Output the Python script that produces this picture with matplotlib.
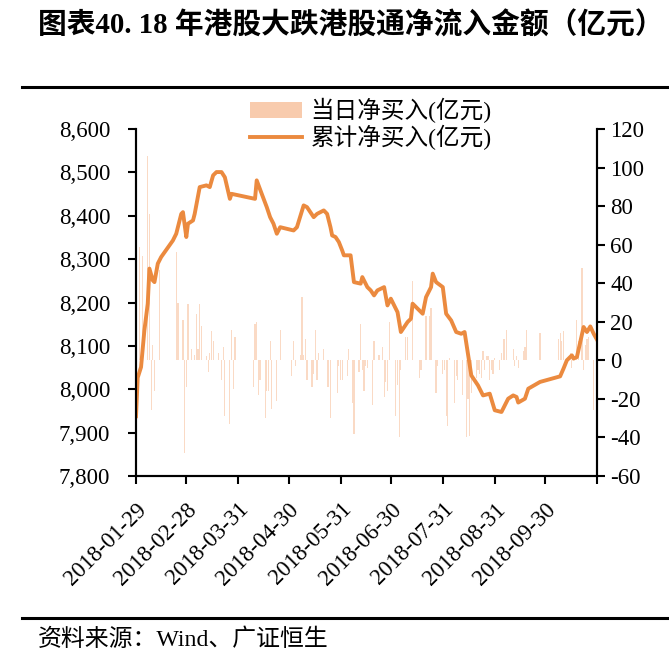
import pandas as pd
import matplotlib
matplotlib.use('Agg')
import matplotlib.pyplot as plt
from matplotlib.lines import Line2D
from matplotlib.ticker import FuncFormatter

plt.rcParams['font.family'] = ['Liberation Serif', 'Noto Sans CJK SC']
plt.rcParams['axes.unicode_minus'] = False

start = pd.Timestamp('2018-01-29')
end = pd.Timestamp('2018-10-31')

# cumulative net buy (亿元), x as days after 2018-01-29
cum_days = [0, 1, 3, 5, 7, 8, 10, 11, 13, 15, 22, 24, 27, 28, 30, 31, 34, 35, 38, 42,
            44, 46, 48, 51, 53, 56, 57, 71, 72, 75, 78, 80, 82, 84, 86, 94, 96, 100, 102, 106,
            108, 112, 114, 116, 117, 119, 121, 123, 124, 128, 130, 134, 135, 138, 140, 142, 144, 148, 150, 152,
            156, 158, 162, 164, 165, 168, 171, 173, 176, 177, 179, 183, 185, 188, 191, 194, 196, 200, 202, 204,
            207, 211, 214, 218, 222, 225, 227, 228, 232, 234, 241, 253, 255, 257, 260, 261, 263, 265, 267, 269,
            271, 273, 275]
cum_vals = [-29, -9, -3.5, 15.6, 29.4, 47.6, 41.5, 40.6, 50.2, 53.6, 62.2, 65.7, 76, 76.9, 64, 70.9, 72.6, 76, 89.9, 90.8,
            89.9, 96, 97.7, 97.7, 95, 83.8, 86.4, 83.8, 93.4, 86.4, 79.5, 74.3, 70.9, 65.7, 69.1, 67.4, 69.1, 80.4, 79.5, 74.3,
            76, 77.8, 76, 69.1, 64.8, 64, 61.4, 57, 54.5, 54.5, 40.6, 39.8, 43.2, 38, 36.3, 33.7, 36.3, 38, 28.5, 32,
            25, 14.7, 19.9, 21.6, 29.4, 26.8, 24.2, 32.8, 38, 45, 40.6, 38, 24.2, 20.7, 14.7, 13.8, 14.7, -7.8, -10.4, -13,
            -18.2, -17.3, -25.9, -26.8, -19.9, -18.2, -19, -21.9, -19.9, -14.7, -11.2, -8.3, -4.3, 0, 2.6, 0.9, 1.7, 9.5, 17.3, 14.7,
            17.6, 13.8, 10.7]

# daily net buy (亿元)
daily_days = [2, 4, 7, 8, 9, 10, 11, 14, 24, 25, 28, 29, 30, 31, 33, 35, 36, 37, 38, 39,
              42, 43, 44, 45, 46, 49, 51, 52, 53, 56, 57, 58, 59, 70, 71, 72, 73, 74, 77, 78,
              79, 80, 81, 84, 86, 93, 94, 95, 98, 99, 100, 101, 102, 105, 106, 107, 108, 109, 112, 114,
              115, 116, 120, 121, 122, 123, 126, 127, 129, 130, 133, 134, 135, 136, 137, 138, 141, 142, 145, 147,
              148, 149, 150, 151, 155, 156, 157, 158, 161, 162, 165, 169, 170, 173, 175, 176, 179, 180, 183, 184,
              185, 186, 187, 190, 191, 192, 195, 197, 198, 199, 200, 203, 204, 205, 206, 207, 208, 209, 210, 211,
              212, 213, 214, 217, 218, 219, 220, 221, 225, 226, 227, 228, 231, 232, 233, 241, 252, 253, 254, 255,
              259, 260, 263, 264, 266, 267, 268, 269, 270, 273]
daily_vals = [59, 54, 106, 76, -26, 8, -16, 47, 56, 30, 21, -48, -14, 29, 6, 3, 24, 6, 29, 18,
              2, -6, 4, 15, 10, 4, -10, 7, -29, -33, 16, -15, 12, -14, 19, 20, -18, -10, -30, -16,
              -16, 10, -25, -21, 16, -8, 10, -3, 3, 33, 3, 11, -10, -14, -7, 16, -10, 4, 6, -14,
              -14, -30, -17, -3, -10, -10, -8, 6, -22, -38, -6, 19, -5, -16, -3, -4, -23, 10, 3, 7,
              -19, -11, -16, 20, -29, -13, -40, -5, 12, 12, 41, -9, -5, 23, 23, 27, -17, -3, -7, -5,
              -29, -34, 1, -22, -8, -10, -18, -40, -20, -39, -17, -9, -5, -7, -9, 5, -5, 2, 2, -10,
              -5, -7, 1, -5, 4, 11, 11, 16, 6, -3, 2, -4, 5, 7, 16, 14, 11, 14, 10, 15,
              4, -4, 21, 10, 48, -5, 8, 11, 12, -26]

tick_dates = ['2018-01-29', '2018-02-28', '2018-03-31', '2018-04-30', '2018-05-31',
              '2018-06-30', '2018-07-31', '2018-08-31', '2018-09-30', '2018-10-31']
tick_labels = ['2018-01-29', '2018-02-28', '2018-03-31', '2018-04-30', '2018-05-31',
               '2018-06-30', '2018-07-31', '2018-08-31', '2018-09-30', '']
left_ticks = [7800, 7900, 8000, 8100, 8200, 8300, 8400, 8500, 8600]
right_ticks = [-60, -40, -20, 0, 20, 40, 60, 80, 100, 120]

cum_dates = start + pd.to_timedelta(cum_days, unit='D')
daily_dates = start + pd.to_timedelta(daily_days, unit='D')

fig = plt.figure(figsize=(6.69, 6.62), dpi=100)
ax = fig.add_axes([0.2033, 0.281, 0.6891, 0.524])
ax2 = ax.twinx()

bars = ax2.bar(daily_dates, daily_vals, width=0.7, color='#F8CBAD', alpha=0.7, linewidth=0,
               label='当日净买入(亿元)')
line, = ax2.plot(cum_dates, cum_vals, color='#EB8A3F', lw=2.8, label='累计净买入(亿元)')

ax.set_xlim(start, end)
ax.set_ylim(7800, 8600)
ax.set_yticks(left_ticks)
ax.yaxis.set_major_formatter(FuncFormatter(lambda v, p: f'{int(v):,}'))
ax2.set_ylim(-60, 120)
ax2.set_yticks(right_ticks)

ax.set_xticks(pd.to_datetime(tick_dates))
ax.set_xticklabels(tick_labels, rotation=45, ha='right', va='top', rotation_mode='anchor')

for a in (ax, ax2):
    a.spines['top'].set_visible(False)
    for s in ('left', 'right', 'bottom'):
        a.spines[s].set_linewidth(1.5)
    a.tick_params(direction='out', length=6, width=1.5, labelsize=16.5, colors='black')
ax.tick_params(axis='y', pad=12.5)
ax.tick_params(axis='x', pad=10.5)

leg = fig.legend(handles=[bars, line], loc='upper left', bbox_to_anchor=(0.36, 0.866),
                 frameon=False, fontsize=17, handlelength=2.2, handletextpad=0.35,
                 labelspacing=0.05, borderaxespad=0)
leg.legend_handles[0].set_alpha(1)

fig.text(0.057, 0.962, '图表40. 18 年港股大跌港股通净流入金额（亿元）',
         fontsize=20.7, weight='bold', va='center')
fig.add_artist(Line2D([0.033, 1.0], [0.869, 0.869], color='black', lw=2.2))
fig.add_artist(Line2D([0.033, 1.0], [0.067, 0.067], color='black', lw=2.2))
fig.text(0.057, 0.033, '资料来源：Wind、广证恒生', fontsize=17.2, va='center')

fig.savefig('out.png', dpi=100)
